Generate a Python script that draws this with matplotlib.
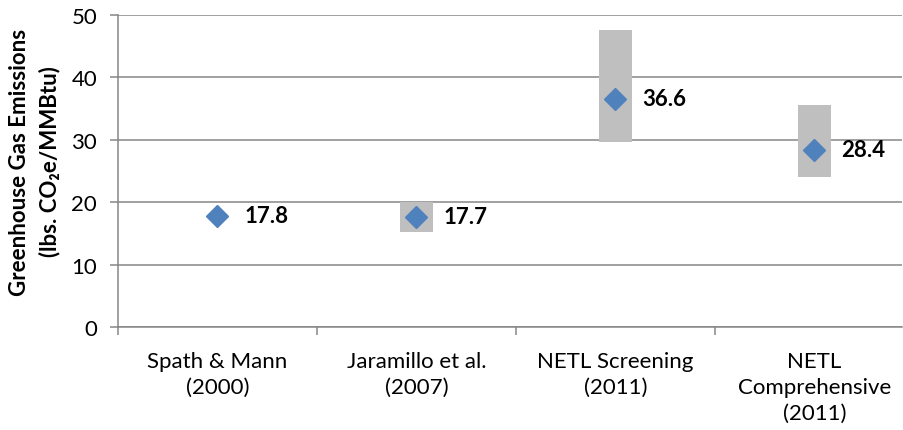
import matplotlib
matplotlib.use("Agg")
import matplotlib.pyplot as plt
import numpy as np

plt.rcParams['font.family'] = ['Lato', 'DejaVu Sans']

categories = ["Spath & Mann\n(2000)", "Jaramillo et al.\n(2007)", "NETL Screening\n(2011)", "NETL\nComprehensive\n(2011)"]
values = [17.8, 17.7, 36.6, 28.4]
range_low = [np.nan, 15.3, 29.7, 24.1]
range_high = [np.nan, 20.1, 47.6, 35.6]
yticks = [0, 10, 20, 30, 40, 50]

GRID = "#868686"
FS = 16
fig = plt.figure(figsize=(9.04, 4.31), dpi=100)
ax = fig.add_axes([118/904, 1-328/431, (902-118)/904, (328-16)/431])

x = np.arange(len(categories))
low = np.array(range_low)
high = np.array(range_high)
ax.bar(x, high - low, bottom=low, width=0.166, color="#BFBFBF", zorder=2)
ax.plot(x, values, linestyle="none", marker="D", markersize=11, color="#4F81BD", zorder=3)
for xi, v in zip(x, values):
    ax.annotate(f"{v:.1f}", (xi, v), xytext=(19.5, 0), textcoords="offset points",
                ha="left", va="center", fontsize=FS, fontweight="bold", color="black", zorder=4)

ax.set_xlim(-0.5, 3.44)
ax.set_ylim(0, 50)
ax.set_yticks(yticks)
ax.set_yticklabels([str(t) for t in yticks], fontsize=FS)
ax.yaxis.grid(True, color=GRID, linewidth=1.1, zorder=0)
ax.set_axisbelow(True)

ax.set_xticks(x)
ax.set_xticklabels(categories, fontsize=FS, linespacing=1.38)
ax.tick_params(axis="x", length=0, pad=17)
ax.set_xticks(np.arange(-0.5, 3.5, 1.0), minor=True)
ax.tick_params(axis="x", which="minor", length=5.5, width=1.1, color=GRID, direction="out")
ax.tick_params(axis="y", length=6, width=1.1, color=GRID, pad=9, direction="out")

for s in ["top", "right"]:
    ax.spines[s].set_visible(False)
for s in ["left", "bottom"]:
    ax.spines[s].set_color(GRID)
    ax.spines[s].set_linewidth(1.1)

fig.text(35/904, 1-162/431, "Greenhouse Gas Emissions\n(lbs. CO\u2082e/MMBtu)", rotation=90,
         ha="center", va="center", fontsize=FS, fontweight="bold", linespacing=1.5,
         family=['Lato', 'DejaVu Sans'])

fig.savefig("out.png", dpi=100)
